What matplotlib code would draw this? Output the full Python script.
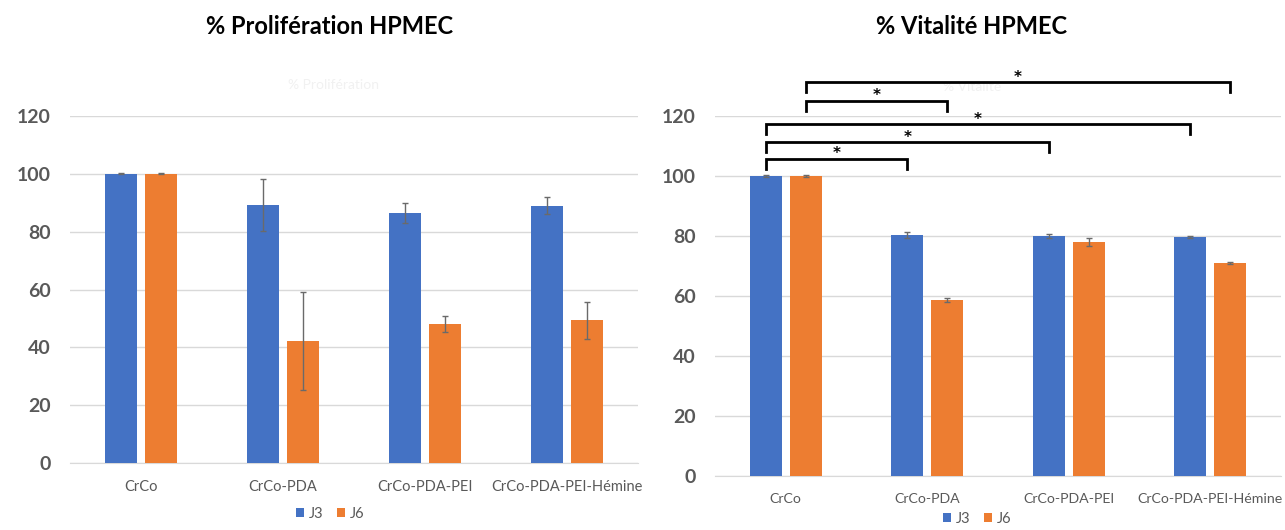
import numpy as np
import matplotlib.pyplot as plt

plt.rcParams["font.family"] = ["Lato", "DejaVu Sans"]

categories = ["CrCo", "CrCo-PDA", "CrCo-PDA-PEI", "CrCo-PDA-PEI-Hémine"]
series = ["J3", "J6"]

prolif_j3 = [100, 89.3, 86.5, 89.0]
prolif_j3_err = [0.2, 9.0, 3.5, 3.0]
prolif_j6 = [100, 42.2, 48.2, 49.3]
prolif_j6_err = [0.2, 17.0, 2.8, 6.5]

vital_j3 = [100, 80.3, 80.0, 79.8]
vital_j3_err = [0.3, 1.0, 0.7, 0.3]
vital_j6 = [100, 58.7, 78.0, 71.0]
vital_j6_err = [0.3, 0.8, 1.3, 0.3]

# significance brackets on the vitality chart: (series, group a, group b, height)
vital_brackets = [
    ("J6", 0, 3, 131.3),
    ("J6", 0, 1, 125.0),
    ("J3", 0, 3, 117.3),
    ("J3", 0, 2, 111.3),
    ("J3", 0, 1, 105.7),
]

BLUE = "#4472C4"
ORANGE = "#ED7D31"
GRID = "#D9D9D9"
TEXT = "#595959"
W = 1285
H = 530
BAR_W = 0.225
OFF = 0.141


def px_axes(fig, left, right, top, bottom):
    return fig.add_axes([left / W, 1 - bottom / H, (right - left) / W, (bottom - top) / H])


def draw_panel(ax, j3, j3_err, j6, j6_err, xfont=10.5):
    x = np.arange(len(categories))
    ekw = dict(ecolor="#6a6a6a", elinewidth=1, capsize=2.5, capthick=1)
    ax.bar(x - OFF, j3, BAR_W, yerr=j3_err, color=BLUE, label=series[0],
           error_kw=ekw, zorder=3)
    ax.bar(x + OFF, j6, BAR_W, yerr=j6_err, color=ORANGE, label=series[1],
           error_kw=ekw, zorder=3)
    ax.set_xlim(-0.5, len(categories) - 0.5)
    ax.set_ylim(0, 120)
    ax.set_yticks(range(0, 121, 20))
    ax.set_xticks(x)
    ax.set_xticklabels(categories, fontsize=xfont, color=TEXT)
    for lab in ax.get_yticklabels():
        lab.set_fontsize(14)
        lab.set_fontweight("bold")
        lab.set_color(TEXT)
    ax.tick_params(length=0)
    ax.tick_params(axis="x", pad=12)
    ax.tick_params(axis="y", pad=14)
    ax.yaxis.grid(True, color=GRID, lw=1, zorder=0)
    ax.set_axisbelow(True)
    for s in ["top", "right", "left"]:
        ax.spines[s].set_visible(False)
    ax.spines["bottom"].set_color(GRID)


fig = plt.figure(figsize=(W / 100, H / 100), dpi=100)

ax1 = px_axes(fig, 70, 638, 116, 463)
draw_panel(ax1, prolif_j3, prolif_j3_err, prolif_j6, prolif_j6_err)
fig.text(330 / W, 1 - 27 / H, "% Prolifération HPMEC", ha="center", va="center",
         fontsize=17, fontweight="bold", color="black")
fig.text(333 / W, 1 - 85 / H, "% Prolifération", ha="center", va="center",
         fontsize=10, color="#f1f1f1", zorder=-1)
ax1.legend(loc="center", bbox_to_anchor=(330 / W, 1 - 514 / H), bbox_transform=fig.transFigure,
           ncol=2, frameon=False, fontsize=10.5, labelcolor=TEXT, handlelength=0.6,
           handleheight=0.6, handletextpad=0.3, columnspacing=0.9)

ax2 = px_axes(fig, 715, 1281, 116, 476)
draw_panel(ax2, vital_j3, vital_j3_err, vital_j6, vital_j6_err, xfont=10.2)
fig.text(972 / W, 1 - 27 / H, "% Vitalité HPMEC", ha="center", va="center",
         fontsize=17, fontweight="bold", color="black")
fig.text(972 / W, 1 - 87 / H, "% Vitalité", ha="center", va="center",
         fontsize=10, color="#f1f1f1", zorder=-1)
ax2.legend(loc="center", bbox_to_anchor=(977 / W, 1 - 519 / H), bbox_transform=fig.transFigure,
           ncol=2, frameon=False, fontsize=10.5, labelcolor=TEXT, handlelength=0.6,
           handleheight=0.6, handletextpad=0.3, columnspacing=0.9)

for name, a, b, y in vital_brackets:
    off = -OFF if name == "J3" else OFF
    xa, xb = a + off, b + off
    drop = 3.4
    ax2.plot([xa, xa, xb, xb], [y - drop, y, y, y - drop], color="black", lw=2,
             clip_on=False, zorder=5, solid_joinstyle="miter")
    ax2.text((xa + xb) / 2, y + 0.2, "*", ha="center", va="baseline", fontsize=11,
             fontweight="bold", color="black", clip_on=False, family="DejaVu Sans")

fig.savefig("out.png", dpi=100)
